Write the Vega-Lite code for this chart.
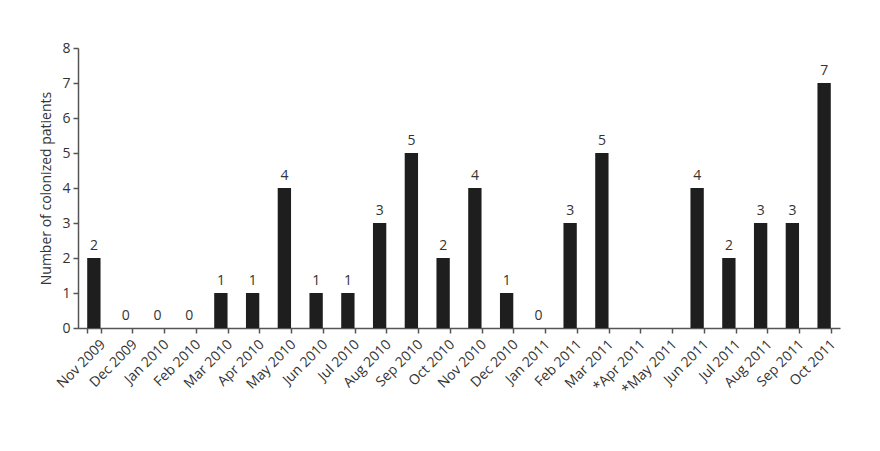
{
  "$schema": "https://vega.github.io/schema/vega-lite/v6.json",
  "description": "Monthly number of colonized patients, Nov 2009 to Oct 2011.",
  "autosize": "none",
  "padding": {"left": 78, "top": 48, "right": 42, "bottom": 123},
  "width": 762,
  "height": 280,
  "background": "white",
  "config": {
    "view": {"stroke": null},
    "font": "Open Sans",
    "axis": {
      "domainColor": "#555555",
      "domainWidth": 1.5,
      "tickColor": "#555555",
      "tickWidth": 1.5,
      "tickSize": 5,
      "labelColor": "#333333",
      "labelFontSize": 14,
      "titleColor": "#333333",
      "titleFontSize": 14,
      "titleFontWeight": "normal",
      "grid": false
    }
  },
  "data": {
    "values": [
      {"month": "Nov 2009", "count": 2},
      {"month": "Dec 2009", "count": 0},
      {"month": "Jan 2010", "count": 0},
      {"month": "Feb 2010", "count": 0},
      {"month": "Mar 2010", "count": 1},
      {"month": "Apr 2010", "count": 1},
      {"month": "May 2010", "count": 4},
      {"month": "Jun 2010", "count": 1},
      {"month": "Jul 2010", "count": 1},
      {"month": "Aug 2010", "count": 3},
      {"month": "Sep 2010", "count": 5},
      {"month": "Oct 2010", "count": 2},
      {"month": "Nov 2010", "count": 4},
      {"month": "Dec 2010", "count": 1},
      {"month": "Jan 2011", "count": 0},
      {"month": "Feb 2011", "count": 3},
      {"month": "Mar 2011", "count": 5},
      {"month": "*Apr 2011", "count": null},
      {"month": "*May 2011", "count": null},
      {"month": "Jun 2011", "count": 4},
      {"month": "Jul 2011", "count": 2},
      {"month": "Aug 2011", "count": 3},
      {"month": "Sep 2011", "count": 3},
      {"month": "Oct 2011", "count": 7}
    ]
  },
  "encoding": {
    "x": {
      "field": "month",
      "type": "nominal",
      "sort": null,
      "title": null,
      "scale": {
        "domain": ["Nov 2009", "Dec 2009", "Jan 2010", "Feb 2010", "Mar 2010", "Apr 2010", "May 2010", "Jun 2010", "Jul 2010", "Aug 2010", "Sep 2010", "Oct 2010", "Nov 2010", "Dec 2010", "Jan 2011", "Feb 2011", "Mar 2011", "*Apr 2011", "*May 2011", "Jun 2011", "Jul 2011", "Aug 2011", "Sep 2011", "Oct 2011"],
        "paddingInner": 0.58,
        "paddingOuter": 0.29
      },
      "axis": {
        "labelAngle": -45,
        "labelAlign": "right",
        "labelBaseline": "top",
        "labelPadding": 4,
        "labelOffset": 4,
        "tickBand": "extent"
      }
    },
    "y": {
      "field": "count",
      "type": "quantitative",
      "title": "Number of colonized patients",
      "scale": {"domain": [0, 8], "nice": false},
      "axis": {"values": [0, 1, 2, 3, 4, 5, 6, 7, 8], "titlePadding": 8, "labelPadding": 3}
    }
  },
  "layer": [
    {"mark": {"type": "bar", "color": "#1e1e1e"}},
    {
      "transform": [{"filter": "isValid(datum.count)"}],
      "mark": {"type": "text", "dy": -12, "fontSize": 14, "color": "#333333"},
      "encoding": {"text": {"field": "count", "type": "quantitative"}}
    }
  ]
}
